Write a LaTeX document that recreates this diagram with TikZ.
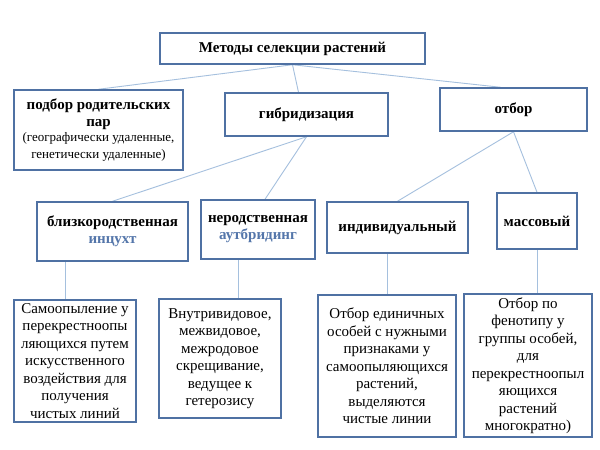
\documentclass[tikz,border=0pt]{standalone}
\usepackage{fontspec}
\setmainfont{Liberation Serif}
\usetikzlibrary{positioning,backgrounds}
\definecolor{boxblue}{RGB}{79,113,163}
\definecolor{lineblue}{RGB}{165,192,222}
\definecolor{subblue}{RGB}{84,118,170}
\tikzset{
  box/.style={rectangle,draw=boxblue,line width=1.5pt,fill=white,align=center,inner sep=1pt},
  head/.style={box,font=\fontsize{15}{17}\selectfont\bfseries},
  desc/.style={box,font=\fontsize{15}{17.5}\selectfont},
  link/.style={draw=lineblue,line width=0.9pt}
}
\begin{document}
\begin{tikzpicture}[x=1pt,y=-1pt]
    \useasboundingbox (0,0) rectangle (600,450);

    % Top
    \node[head,minimum width=265pt,minimum height=31pt] (methods) at (292.5,48.5) {Методы селекции растений};

    % Second row
    \node[head,minimum width=169pt,minimum height=80pt] (pairs) at (98.5,130) {подбор родительских\\пар\\[-2pt]{\fontsize{13}{15}\selectfont\mdseries (географически удаленные,}\\{\fontsize{13}{15}\selectfont\mdseries генетически удаленные)}};
    \node[head,minimum width=163pt,minimum height=43pt] (hybrid) at (306.5,114.5) {гибридизация};
    \node[head,minimum width=147pt,minimum height=43pt] (selection) at (513.5,109.5) {отбор};

    % Third row
    \node[head,minimum width=151pt,minimum height=59pt] (inbred) at (112.5,231.5) {близкородственная\\\textcolor{subblue}{инцухт}};
    \node[head,minimum width=114pt,minimum height=59pt] (outbred) at (258,229.5) {неродственная\\\textcolor{subblue}{аутбридинг}};
    \node[head,minimum width=141pt,minimum height=51pt] (single) at (397.5,227.5) {индивидуальный};
    \node[head,minimum width=80pt,minimum height=56pt] (mass) at (537,221) {массовый};

    % Descriptions
    \node[desc,minimum width=122pt,minimum height=122pt] (inbredtxt) at (75,361) {Самоопыление у\\перекрестноопы\\ляющихся путем\\искусственного\\воздействия для\\получения\\чистых линий};
    \node[desc,minimum width=122pt,minimum height=119pt] (outbredtxt) at (220,358.5) {Внутривидовое,\\межвидовое,\\межродовое\\скрещивание,\\ведущее к\\гетерозису};
    \node[desc,minimum width=138pt,minimum height=142pt] (singletxt) at (387,366) {Отбор единичных\\особей с нужными\\признаками у\\самоопыляющихся\\растений,\\выделяются\\чистые линии};
    \node[desc,minimum width=128pt,minimum height=143pt] (masstxt) at (528,365.5) {Отбор по\\фенотипу у\\группы особей,\\для\\перекрестноопыл\\яющихся\\растений\\многократно)};

    % Connectors
    \begin{scope}[on background layer]
    \fill[white] (0,0) rectangle (600,450);
    \draw[link] (methods.south) -- (pairs.north);
    \draw[link] (methods.south) -- ([xshift=-8pt]hybrid.north);
    \draw[link] (methods.south) -- ([xshift=-13pt]selection.north);
    \draw[link] (hybrid.south) -- (inbred.north);
    \draw[link] (hybrid.south) -- ([xshift=7pt]outbred.north);
    \draw[link] (selection.south) -- (single.north);
    \draw[link] (selection.south) -- (mass.north);
    \draw[link] ([xshift=-10pt]inbredtxt.north) -- ([xshift=-10pt]inbredtxt.north |- inbred.south);
    \draw[link] ([xshift=18pt]outbredtxt.north) -- ([xshift=18pt]outbredtxt.north |- outbred.south);
    \draw[link] (singletxt.north) -- (singletxt.north |- single.south);
    \draw[link] (mass.south) -- (mass.south |- masstxt.north);
    \end{scope}
\end{tikzpicture}
\end{document}
